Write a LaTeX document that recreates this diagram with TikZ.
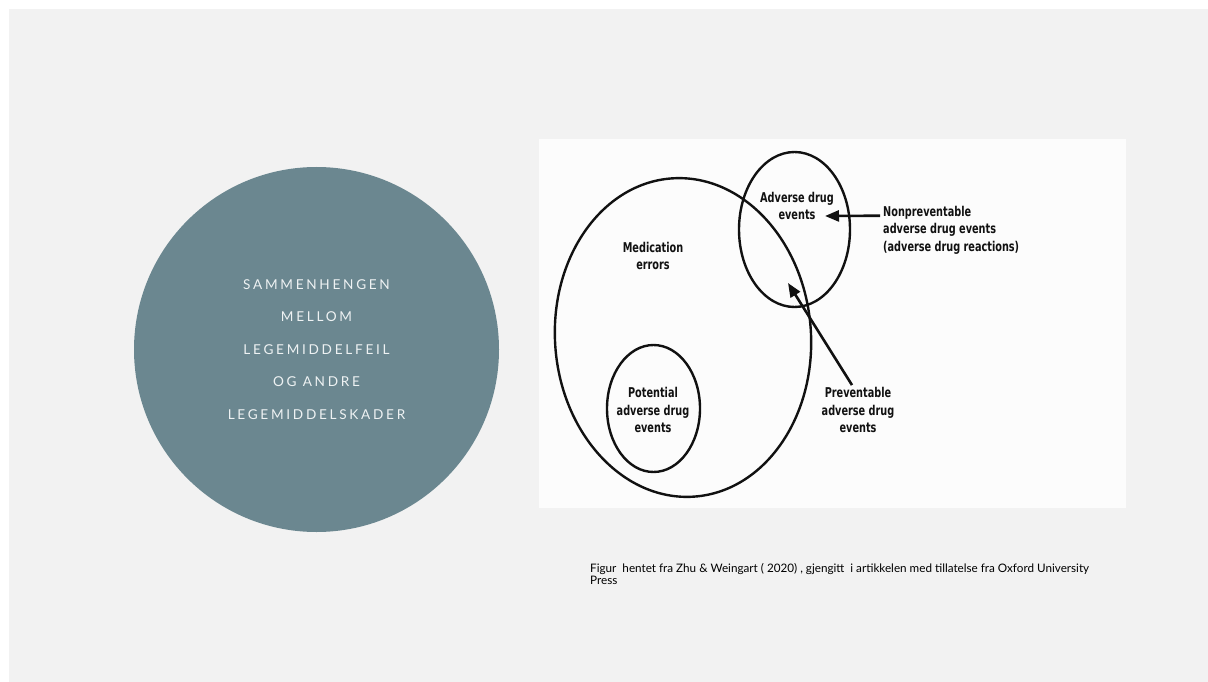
\documentclass[tikz,border=0pt]{standalone}
\usepackage{fontspec}
\usetikzlibrary{arrows.meta,shapes.geometric}
\newfontfamily\titlefont[LetterSpace=20]{Lato}
\newfontfamily\figfont[FakeStretch=0.72]{DejaVu Sans}
\newfontfamily\notefont{Lato}
\definecolor{Page}{HTML}{F2F2F2}
\definecolor{Slate}{HTML}{6B8790}
\definecolor{Ink}{HTML}{111111}
\definecolor{Pale}{HTML}{EEF2F3}
\definecolor{Paper}{HTML}{FCFCFC}

\begin{document}
\begin{tikzpicture}[x=1pt,y=-1pt,
    set/.style={draw=Ink,line width=2.4pt,ellipse,inner sep=0pt},
    lbl/.style={text=Ink,align=center,inner sep=0pt,
      font=\figfont\bfseries\fontsize{13.5}{17.5}\selectfont},
    arr/.style={-{Triangle[length=14pt,width=11pt]},line width=2.6pt,draw=Ink}]
    \useasboundingbox (0,0) rectangle (1208,682);
    \fill[white] (0,0) rectangle (1208,682);
    \fill[Page] (9,9) rectangle (1208,682);
    \node[circle,fill=Slate,minimum size=365pt,inner sep=0pt] (disc) at (316.5,349.5) {};
    \node[text=Pale,align=center,font=\titlefont\fontsize{13.6}{32.6}\selectfont] (title) at (disc)
      {SAMMENHENGEN\\MELLOM\\LEGEMIDDELFEIL\\OG ANDRE\\LEGEMIDDELSKADER};
    \node[fill=Paper,minimum width=587pt,minimum height=369pt,inner sep=0pt,anchor=north west] (scan) at (539,139) {};
    \node[set,minimum width=256pt,minimum height=319pt,rotate=4] (meds) at (683,337.5) {};
    \node[set,minimum width=111pt,minimum height=155pt] (ade) at (794.5,229.5) {};
    \node[set,minimum width=93pt,minimum height=127pt] (pot) at (653.5,408.5) {};
    \node[lbl] (adelbl) at (797,206) {Adverse drug\\events};
    \node[lbl] (medlbl) at (653,256) {Medication\\errors};
    \node[lbl] (potlbl) at (653,410) {Potential\\adverse drug\\events};
    \node[lbl] (prev) at (858,410) {Preventable\\adverse drug\\events};
    \node[lbl,align=left,anchor=west] (nonprev) at (883,230)
      {Nonpreventable\\adverse drug events\\(adverse drug reactions)};
    \coordinate (adetip) at (825,216);
    \coordinate (prevtip) at (788,283);
    \draw[arr] ([xshift=-3pt,yshift=-10pt]nonprev.north west) -- (adetip);
    \draw[arr] ([xshift=-6pt,yshift=2pt]prev.north) -- (prevtip);
    \node[anchor=north west,align=left,inner sep=0pt,text=black,
      font=\notefont\fontsize{11.7}{12.5}\selectfont] (note) at (590,563)
      {Figur \ hentet fra Zhu \& Weingart ( 2020) , gjengitt \ i artikkelen med tillatelse fra Oxford University\\Press};
  \end{tikzpicture}
\end{document}
